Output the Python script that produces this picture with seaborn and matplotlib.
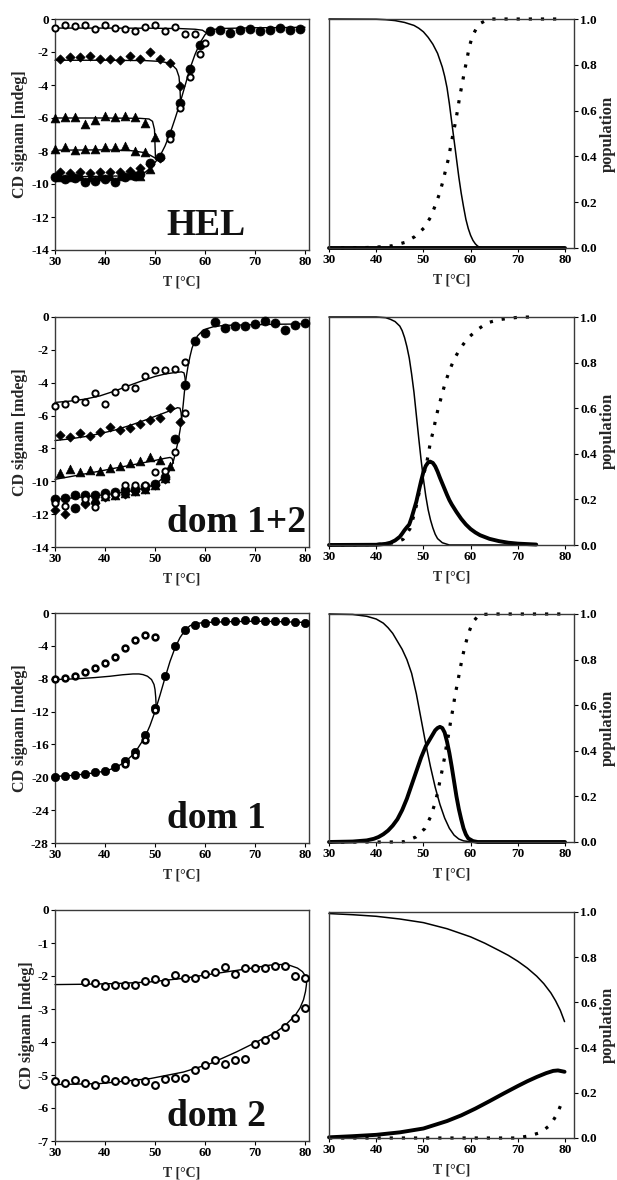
import numpy as np
import pandas as pd
import matplotlib
matplotlib.use("Agg")
import matplotlib.pyplot as plt
import seaborn as sns

# ---------------- DATA ----------------
# HEL, CD signal (left)
hel_circ_T = [30, 32, 34, 36, 38, 40, 42, 44, 46, 47, 49, 51, 53, 55, 57, 59, 61, 63, 65, 67, 69, 71, 73, 75, 77, 79]
hel_circ_y = [-9.6, -9.7, -9.65, -9.9, -9.8, -9.7, -9.85, -9.55, -9.5, -9.4, -8.75, -8.35, -6.95, -5.1, -3.0, -1.6,
              -0.75, -0.68, -0.85, -0.65, -0.6, -0.7, -0.68, -0.55, -0.68, -0.6]
hel_dia_T = [31, 33, 35, 37, 39, 41, 43, 45, 47, 49, 51, 53, 55, 31, 33, 35, 37, 39, 41, 43, 45, 47, 49, 51]
hel_dia_y = [-2.45, -2.28, -2.3, -2.27, -2.4, -2.4, -2.5, -2.27, -2.4, -2.03, -2.42, -2.68, -4.05,
             -9.25, -9.35, -9.3, -9.35, -9.3, -9.3, -9.25, -9.2, -9.0, -8.8, -8.4]
hel_tri_T = [30, 32, 34, 36, 38, 40, 42, 44, 46, 48, 50, 30, 32, 34, 36, 38, 40, 42, 44, 46, 48,
             31, 33, 35, 37, 39, 41, 43, 45, 47, 49]
hel_tri_y = [-6.0, -5.92, -5.92, -6.38, -6.1, -5.88, -5.95, -5.88, -5.95, -6.32, -7.15,
             -7.9, -7.75, -7.95, -7.88, -7.85, -7.75, -7.75, -7.7, -7.98, -8.05,
             -9.55, -9.6, -9.5, -9.55, -9.5, -9.5, -9.5, -9.45, -9.5, -9.1]
hel_open_T = [30, 32, 34, 36, 38, 40, 42, 44, 46, 48, 50, 52, 54, 56, 58, 59, 60, 57, 55, 53]
hel_open_y = [-0.55, -0.35, -0.45, -0.38, -0.58, -0.38, -0.55, -0.62, -0.7, -0.5, -0.38, -0.7, -0.5, -0.9,
              -0.92, -2.15, -1.45, -3.5, -5.4, -7.3]
hel_fit_main_T = [30, 35, 40, 45, 46, 47, 48, 49, 50, 51, 52, 53, 54, 55, 56, 57, 58, 59, 60, 60.5, 61, 62, 64,
                  67, 70, 75, 80]
hel_fit_main_y = [-9.55, -9.55, -9.53, -9.5, -9.47, -9.42, -9.3, -9.05, -8.7, -8.3, -7.7, -6.95, -6.05, -5.1,
                  -4.05, -3.0, -2.15, -1.45, -0.95, -0.8, -0.7, -0.62, -0.57, -0.55, -0.53, -0.52, -0.5]
hel_fit_open_T = [30, 40, 50, 55, 58, 59.5, 60.3]
hel_fit_open_y = [-0.55, -0.55, -0.56, -0.58, -0.62, -0.68, -0.85]
hel_fit_dia_T = [30, 40, 48, 51, 52.5, 53.5, 54.3, 54.8, 55.0, 55.1]
hel_fit_dia_y = [-2.5, -2.5, -2.52, -2.57, -2.65, -2.8, -3.05, -3.5, -4.2, -5.0]
hel_fit_tri1_T = [30, 40, 47, 48.8, 49.5, 49.9, 50.1]
hel_fit_tri1_y = [-6.0, -6.0, -6.02, -6.06, -6.2, -6.7, -8.5]
hel_fit_tri2_T = [30, 40, 45, 47.5, 49, 50, 50.4]
hel_fit_tri2_y = [-7.95, -7.93, -7.97, -8.08, -8.25, -8.42, -8.52]

# HEL populations (right)
hel_N_T = [30, 40, 42, 44, 46, 48, 49, 50, 51, 52, 53, 54, 54.5, 55, 55.5, 56, 56.5, 57, 57.5, 58, 58.5, 59, 59.5,
           60, 60.5, 61, 61.5, 62, 62.5, 80]
hel_N_y = [1.0, 0.999, 0.997, 0.993, 0.985, 0.972, 0.96, 0.944, 0.92, 0.89, 0.85, 0.79, 0.75, 0.70, 0.63, 0.55,
           0.47, 0.39, 0.31, 0.24, 0.18, 0.125, 0.085, 0.055, 0.033, 0.018, 0.008, 0.003, 0.0, 0.0]
hel_I_T = [30, 80]
hel_I_y = [0.0, 0.0]
hel_U_T = [30, 38, 40.8, 43.5, 46, 48.2, 50.1, 51.5, 52.5, 53.4, 54.1, 54.7, 55.3, 55.8, 56.3, 56.8, 57.3, 57.7,
           58.2, 58.7, 59.2, 59.7, 60.4, 61.7, 63.8, 80]
hel_U_y = [0, 0.002, 0.005, 0.01, 0.024, 0.05, 0.087, 0.134, 0.185, 0.237, 0.289, 0.34, 0.39, 0.447, 0.5, 0.55,
           0.61, 0.663, 0.715, 0.772, 0.822, 0.877, 0.927, 0.977, 1.0, 1.0]

# dom 1+2, CD signal (left)
d12_circ_T = [30, 32, 34, 36, 38, 40, 42, 44, 46, 48, 50, 52, 54, 56, 58, 60, 62, 64, 66, 68, 70, 72, 74, 76, 78, 80, 34]
d12_circ_y = [-11.06, -11.04, -10.85, -10.85, -10.85, -10.72, -10.65, -10.55, -10.5, -10.3, -10.15, -9.75, -7.4,
              -4.15, -1.45, -1.0, -0.3, -0.7, -0.57, -0.52, -0.45, -0.25, -0.37, -0.77, -0.48, -0.37, -11.6]
d12_open_T = [30, 32, 34, 36, 38, 40, 42, 44, 46, 48, 50, 52, 54, 56, 56, 54, 52, 50,
              30, 32, 36, 38, 40, 42, 44, 46, 48]
d12_open_y = [-5.43, -5.3, -5.0, -5.15, -4.6, -5.27, -4.58, -4.26, -4.3, -3.57, -3.2, -3.25, -3.16, -2.76,
              -5.84, -8.23, -9.35, -9.43, -11.3, -11.5, -11.1, -11.55, -10.9, -10.8, -10.2, -10.2, -10.25]
d12_dia_T = [31, 33, 35, 37, 39, 41, 43, 45, 47, 49, 51, 53, 55, 30, 32, 36, 38, 40, 42, 44, 46, 48, 50, 52]
d12_dia_y = [-7.2, -7.28, -7.08, -7.22, -7.0, -6.72, -6.88, -6.78, -6.5, -6.3, -6.13, -5.52, -6.37,
             -11.75, -12.0, -11.4, -11.3, -10.95, -10.85, -10.75, -10.6, -10.45, -10.2, -9.85]
d12_tri_T = [31, 33, 35, 37, 39, 41, 43, 45, 47, 49, 51, 53, 36, 38, 40, 42, 44, 46, 48, 50, 52]
d12_tri_y = [-9.52, -9.28, -9.42, -9.32, -9.35, -9.18, -9.08, -8.9, -8.75, -8.55, -8.7, -9.1,
             -11.1, -11.0, -10.9, -10.85, -10.7, -10.6, -10.45, -10.25, -9.8]
d12_fit_main_T = [30, 34, 38, 42, 46, 48, 50, 51.6, 52.3, 52.9, 53.3, 53.7, 54.1, 54.6, 55.0, 55.3, 55.65, 56,
                  56.3, 56.6, 57.0, 57.4, 57.9, 58.5, 59.3, 60.3, 61.6, 63, 65, 70, 75, 80]
d12_fit_main_y = [-11.1, -11.0, -10.88, -10.75, -10.55, -10.4, -10.2, -9.8, -9.6, -9.35, -9.1, -8.75, -8.25, -7.6,
                  -6.9, -6.3, -5.3, -4.2, -3.55, -3.0, -2.4, -1.9, -1.5, -1.15, -0.9, -0.72, -0.6, -0.54, -0.5,
                  -0.47, -0.44, -0.42]
d12_fit_open_T = [30, 33, 36, 39, 42, 45, 48, 50, 52, 54, 55.3, 55.8, 56.0, 56.1]
d12_fit_open_y = [-5.2, -5.12, -5.0, -4.8, -4.5, -4.15, -3.82, -3.62, -3.47, -3.38, -3.34, -3.4, -3.7, -4.1]
d12_fit_dia_T = [30, 33, 36, 39, 42, 45, 48, 50, 52, 53.5, 54.5, 55.0, 55.2, 55.35]
d12_fit_dia_y = [-7.52, -7.42, -7.28, -7.1, -6.88, -6.6, -6.28, -6.05, -5.82, -5.65, -5.52, -5.55, -5.8, -6.3]
d12_fit_tri_T = [30, 33, 36, 39, 42, 45, 48, 50, 52, 53.0, 53.4, 53.7]
d12_fit_tri_y = [-9.88, -9.72, -9.55, -9.38, -9.2, -9.03, -8.85, -8.73, -8.6, -8.55, -8.6, -8.9]

# dom 1+2 populations
d12_N_T = [30, 40, 42, 43, 44, 45, 45.5, 46, 46.5, 47, 47.5, 48, 48.5, 49, 49.5, 50, 50.5, 51, 51.5, 52, 52.5, 53,
           54, 55.5, 74]
d12_N_y = [1, 1, 0.997, 0.99, 0.98, 0.96, 0.94, 0.91, 0.87, 0.82, 0.75, 0.67, 0.57, 0.47, 0.375, 0.29, 0.215,
           0.155, 0.11, 0.075, 0.047, 0.028, 0.01, 0.0, 0.0]
d12_I_T = [30, 40, 41, 42, 43, 44, 45, 45.5, 46, 46.5, 47, 47.5, 48, 48.5, 49, 49.5, 50, 50.5, 51, 51.4, 52, 52.5,
           53, 53.5, 54, 54.5, 55, 55.5, 56, 57, 58, 59, 60, 61, 62, 64, 66, 68, 70, 73.9]
d12_I_y = [0, 0.001, 0.003, 0.005, 0.01, 0.02, 0.036, 0.05, 0.065, 0.078, 0.09, 0.12, 0.155, 0.19, 0.235, 0.28,
           0.32, 0.347, 0.362, 0.366, 0.36, 0.345, 0.322, 0.295, 0.27, 0.245, 0.22, 0.197, 0.178, 0.145, 0.115,
           0.09, 0.07, 0.055, 0.043, 0.027, 0.017, 0.01, 0.006, 0.002]
d12_U_T = [30, 40, 44, 45.7, 47.2, 47.9, 48.6, 49.1, 49.6, 50.6, 51.1, 51.5, 52.1, 52.6, 53.2, 53.9, 54.6, 55.5,
           56.5, 57.8, 59.4, 61.4, 63.5, 65.9, 68, 70.3, 72.8]
d12_U_y = [0, 0.002, 0.01, 0.025, 0.073, 0.124, 0.18, 0.23, 0.278, 0.35, 0.405, 0.454, 0.5, 0.552, 0.605, 0.657,
           0.71, 0.764, 0.815, 0.862, 0.907, 0.944, 0.974, 0.988, 0.994, 0.999, 1.0]

# dom 1, CD signal
d1_circ_T = [30, 32, 34, 36, 38, 40, 42, 44, 46, 48, 50, 52, 54, 56, 58, 60, 62, 64, 66, 68, 70, 72, 74, 76, 78, 80]
d1_circ_y = [-19.96, -19.8, -19.7, -19.55, -19.35, -19.27, -18.8, -17.97, -16.9, -14.9, -11.6, -7.7, -4.05, -2.1,
             -1.4, -1.2, -0.97, -1.0, -0.97, -0.8, -0.9, -0.97, -0.97, -0.97, -1.05, -1.2]
d1_open_T = [30, 32, 34, 36, 38, 40, 42, 44, 46, 48, 50, 50, 48, 46, 44]
d1_open_y = [-8.0, -7.9, -7.7, -7.2, -6.7, -6.07, -5.34, -4.25, -3.28, -2.63, -2.9, -11.8, -15.4, -17.3, -18.4]
d1_fit_main_T = [30, 34, 38, 40, 42, 44, 46, 48, 49, 50, 51, 52, 53, 54, 55, 56, 57, 58, 60, 65, 70, 75, 80]
d1_fit_main_y = [-19.9, -19.75, -19.45, -19.25, -18.85, -18.15, -17.0, -15.1, -13.7, -12.0, -10.0, -7.9, -5.9,
                 -4.25, -3.0, -2.1, -1.55, -1.3, -1.15, -1.05, -1.0, -1.05, -1.15]
d1_fit_open_T = [30, 33, 35.6, 38, 41, 43.5, 45.6, 46.8, 47.6, 48.5, 49.3, 49.8, 50.0, 50.15, 50.25]
d1_fit_open_y = [-8.1, -8.04, -7.96, -7.86, -7.7, -7.52, -7.42, -7.42, -7.5, -7.7, -8.1, -8.7, -9.3, -10.3, -11.6]

# dom 1 populations
d1_N_T = [30, 35, 38, 40, 41.5, 42.5, 43.5, 44.5, 45.5, 46.5, 47.5, 48.5, 49.5, 50.5, 51.5, 52.5, 53.5, 54.5, 55.5,
          56.5, 57.5, 58.5, 60, 61.3, 80]
d1_N_y = [1, 0.998, 0.99, 0.978, 0.96, 0.94, 0.915, 0.88, 0.845, 0.80, 0.74, 0.65, 0.54, 0.43, 0.33, 0.24, 0.165,
          0.105, 0.06, 0.03, 0.013, 0.005, 0.001, 0, 0]
d1_I_T = [30, 35, 38, 39.5, 40.5, 41.5, 42.5, 43.5, 44.5, 45.5, 46.5, 47.5, 48.5, 49.5, 50.5, 51.5, 52.5, 53, 53.5,
          54, 54.5, 55, 55.5, 56, 56.5, 57, 57.5, 58, 58.5, 59, 59.5, 60.5, 61.5, 80]
d1_I_y = [0, 0.002, 0.007, 0.014, 0.022, 0.034, 0.05, 0.072, 0.10, 0.14, 0.19, 0.25, 0.31, 0.37, 0.42, 0.455, 0.49,
          0.5, 0.505, 0.5, 0.48, 0.44, 0.39, 0.33, 0.265, 0.20, 0.145, 0.10, 0.06, 0.033, 0.016, 0.004, 0.0, 0.0]
d1_U_T = [30, 45, 46.1, 48.4, 50.3, 51.5, 52.3, 53, 53.5, 54, 54.5, 54.9, 55.4, 55.8, 56.3, 56.7, 57.2, 57.7, 58.2,
          58.8, 59.5, 60.4, 61.8, 64.3, 80]
d1_U_y = [0, 0, 0.002, 0.022, 0.059, 0.11, 0.16, 0.215, 0.268, 0.318, 0.373, 0.425, 0.479, 0.534, 0.589, 0.644,
          0.695, 0.75, 0.805, 0.859, 0.912, 0.963, 0.997, 1.0, 1.0]

# dom 2, CD signal
d2_open_T = [36, 38, 40, 42, 44, 46, 48, 50, 52, 54, 56, 58, 60, 62, 64, 66, 68, 70, 72, 74, 76, 78, 80,
             80, 78, 76, 74, 72, 70, 68, 66, 64, 62, 60, 58, 56, 54, 52, 50, 48, 46, 44, 42, 40, 38, 36, 34, 32, 30]
d2_open_y = [-2.18, -2.21, -2.29, -2.26, -2.26, -2.26, -2.16, -2.1, -2.19, -1.97, -2.07, -2.07, -1.93, -1.88,
             -1.74, -1.95, -1.75, -1.77, -1.77, -1.7, -1.69, -2.0, -2.07,
             -2.97, -3.27, -3.55, -3.8, -3.93, -4.07, -4.5, -4.55, -4.66, -4.55, -4.7, -4.84, -5.08, -5.09, -5.11,
             -5.31, -5.19, -5.21, -5.15, -5.19, -5.13, -5.29, -5.23, -5.15, -5.23, -5.19]
d2_fit_T = [30, 39, 49, 55.7, 61, 66.3, 70.3, 74, 76, 78, 79, 79.7, 80.1, 80.3, 80.25, 80.0, 79.5, 78.5, 77, 75.5,
            73, 69, 62.3, 55.7, 49, 42.3, 35.7, 30]
d2_fit_y = [-5.29, -5.26, -5.11, -4.91, -4.66, -4.3, -4.0, -3.72, -3.5, -3.2, -2.97, -2.72, -2.47, -2.25, -2.1,
            -1.98, -1.87, -1.76, -1.68, -1.65, -1.67, -1.77, -1.92, -2.07, -2.18, -2.23, -2.25, -2.26]

# dom 2 populations
d2_N_T = [30, 35, 40, 45, 50, 55, 60, 63, 66, 68, 70, 72, 74, 75.5, 77, 78, 79, 79.9]
d2_N_y = [0.993, 0.988, 0.981, 0.969, 0.953, 0.926, 0.89, 0.862, 0.83, 0.808, 0.782, 0.752, 0.716, 0.683, 0.642,
          0.607, 0.565, 0.515]
d2_I_T = [30, 35, 40, 45, 50, 55, 58, 61, 64, 67, 70, 72, 74, 76, 77.5, 78.5, 79.9]
d2_I_y = [0.003, 0.008, 0.014, 0.025, 0.042, 0.075, 0.1, 0.13, 0.163, 0.197, 0.23, 0.251, 0.27, 0.287, 0.297, 0.299,
          0.293]
d2_U_T = [30, 69.7, 72.3, 74.8, 76.9, 78.3, 79.3, 79.6]
d2_U_y = [0, 0, 0.009, 0.024, 0.058, 0.105, 0.156, 0.17]

panel_names = ["HEL", "dom 1+2", "dom 1", "dom 2"]
left_ylims = [(-14, 0), (-14, 0), (-28, 0), (-7, 0)]
left_yticks = [list(range(-14, 1, 2)), list(range(-14, 1, 2)), list(range(-28, 1, 4)), list(range(-7, 1, 1))]
x_ticks = [30, 40, 50, 60, 70, 80]
pop_ticks = [0.0, 0.2, 0.4, 0.6, 0.8, 1.0]
x_label = "T [°C]"
y_label_left = "CD signam [mdeg]"
y_label_right = "population"

# ---------------- STYLE ----------------
sns.set_theme(style="ticks")
plt.rcParams['font.family'] = ['Liberation Serif', 'DejaVu Serif']
plt.rcParams['font.weight'] = 'bold'
plt.rcParams['axes.labelweight'] = 'bold'
plt.rcParams['axes.unicode_minus'] = False

W, H = 617, 1180
fig = plt.figure(figsize=(W / 100, H / 100), dpi=100)

rows = [(19, 250, 19, 248), (317, 547, 317, 545), (613, 843, 614, 842), (910, 1141, 912, 1138)]
spine_col = "#3a3a3a"


def rect(x0, x1, y0, y1):
    return [x0 / W, 1 - y1 / H, (x1 - x0) / W, (y1 - y0) / H]


def style_axes(ax):
    for s in ax.spines.values():
        s.set_color(spine_col)
        s.set_linewidth(1.0)
    ax.tick_params(direction='out', length=3, width=0.8, colors='black', labelsize=9.5, pad=1.5)
    for lab in ax.get_xticklabels() + ax.get_yticklabels():
        lab.set_fontweight('bold')


def fit_line(ax, T, y, lw=1.0):
    sns.lineplot(x=T, y=y, ax=ax, sort=False, estimator=None, color='black', lw=lw, clip_on=False)


def pts(ax, T, y, marker, s, fill=True, lw=0.5):
    sns.scatterplot(x=T, y=y, ax=ax, marker=marker, s=s, color='black',
                    facecolor='black' if fill else 'white', edgecolor='black',
                    linewidth=lw, clip_on=False, zorder=3)


left_data = [
    dict(fits=[(hel_fit_main_T, hel_fit_main_y), (hel_fit_open_T, hel_fit_open_y), (hel_fit_dia_T, hel_fit_dia_y),
               (hel_fit_tri1_T, hel_fit_tri1_y), (hel_fit_tri2_T, hel_fit_tri2_y)],
         pts=[(hel_tri_T, hel_tri_y, '^', 40, True, 0.5), (hel_dia_T, hel_dia_y, 'D', 22, True, 0.5),
              (hel_circ_T, hel_circ_y, 'o', 42, True, 0.5), (hel_open_T, hel_open_y, 'o', 20, False, 1.4)]),
    dict(fits=[(d12_fit_main_T, d12_fit_main_y), (d12_fit_open_T, d12_fit_open_y), (d12_fit_dia_T, d12_fit_dia_y),
               (d12_fit_tri_T, d12_fit_tri_y)],
         pts=[(d12_tri_T, d12_tri_y, '^', 40, True, 0.5), (d12_dia_T, d12_dia_y, 'D', 22, True, 0.5),
              (d12_circ_T, d12_circ_y, 'o', 42, True, 0.5), (d12_open_T, d12_open_y, 'o', 20, False, 1.4)]),
    dict(fits=[(d1_fit_main_T, d1_fit_main_y), (d1_fit_open_T, d1_fit_open_y)],
         pts=[(d1_circ_T, d1_circ_y, 'o', 36, True, 0.5), (d1_open_T, d1_open_y, 'o', 18, False, 1.8)]),
    dict(fits=[(d2_fit_T, d2_fit_y)],
         pts=[(d2_open_T, d2_open_y, 'o', 24, False, 1.5)]),
]
right_data = [
    (hel_N_T, hel_N_y, hel_I_T, hel_I_y, hel_U_T, hel_U_y),
    (d12_N_T, d12_N_y, d12_I_T, d12_I_y, d12_U_T, d12_U_y),
    (d1_N_T, d1_N_y, d1_I_T, d1_I_y, d1_U_T, d1_U_y),
    (d2_N_T, d2_N_y, d2_I_T, d2_I_y, d2_U_T, d2_U_y),
]

for i, (lt, lb, rt, rb) in enumerate(rows):
    # ----- left panel -----
    ax = fig.add_axes(rect(55, 309, lt, lb))
    d = left_data[i]
    for T, y in d['fits']:
        fit_line(ax, T, y, lw=1.0)
    for T, y, m, s, fill, lw in d['pts']:
        pts(ax, T, y, m, s, fill, lw)
    ax.set_xlim(30, 80.8)
    ax.set_ylim(*left_ylims[i])
    ax.set_xticks(x_ticks)
    ax.set_yticks(left_yticks[i])
    ax.set_xlabel(x_label, fontsize=10, fontweight='bold', labelpad=5)
    ax.set_ylabel(y_label_left, fontsize=11.5, fontweight='bold', labelpad=2)
    ax.text(0.44, 0.065, panel_names[i], transform=ax.transAxes, ha='left', va='baseline',
            fontsize=27, fontweight='bold', color='#111111')
    style_axes(ax)

    # ----- right panel -----
    ax2 = fig.add_axes(rect(329, 574, rt, rb))
    NT, Ny, IT, Iy, UT, Uy = right_data[i]
    sns.lineplot(x=UT, y=Uy, ax=ax2, sort=False, estimator=None, color='black', lw=2.3,
                 linestyle=(0, (1.0, 2.8)), dash_capstyle='butt', clip_on=False)
    sns.lineplot(x=IT, y=Iy, ax=ax2, sort=False, estimator=None, color='black', lw=2.8, clip_on=False)
    sns.lineplot(x=NT, y=Ny, ax=ax2, sort=False, estimator=None, color='black', lw=1.1, clip_on=False)
    ax2.set_xlim(30, 81.9)
    ax2.set_ylim(0, 1.0)
    ax2.set_xticks(x_ticks)
    ax2.set_yticks(pop_ticks)
    ax2.set_yticklabels([f"{t:.1f}" for t in pop_ticks])
    ax2.yaxis.tick_right()
    ax2.yaxis.set_label_position('right')
    ax2.set_xlabel(x_label, fontsize=10, fontweight='bold', labelpad=5)
    ax2.set_ylabel(y_label_right, fontsize=12, fontweight='bold', labelpad=2)
    style_axes(ax2)

fig.savefig("out.png", dpi=100)
